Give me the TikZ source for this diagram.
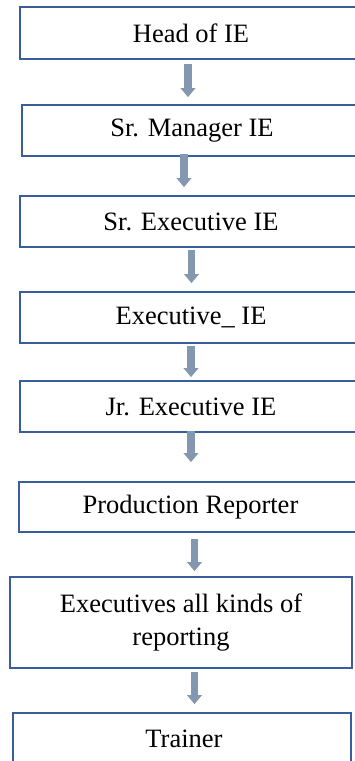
\documentclass[tikz,border=0pt]{standalone}
\usepackage{fontspec}
\setmainfont{Liberation Serif}
\newfontfamily\boxfont{Liberation Serif}
\usetikzlibrary{arrows.meta}
\definecolor{boxblue}{HTML}{3A5E9C}
\definecolor{arrowc}{HTML}{8497B0}
\begin{document}
\begin{tikzpicture}[x=1pt,y=1pt,
  orgbox/.style={draw=boxblue, line width=1.8pt, fill=white, rectangle, inner sep=0pt,
    align=center, font=\boxfont\fontsize{26.5}{33}\selectfont, text=black},
  flowarrow/.style={draw=arrowc, line width=7.5pt, -{Triangle[width=14.5pt,length=9pt]}}]
\useasboundingbox (0,0) rectangle (355,-761);
\clip (0,0) rectangle (355,-761);
\node[orgbox, minimum width=342pt, minimum height=52pt] (n1) at (191,-33) {Head of IE};
\node[orgbox, minimum width=340pt, minimum height=51pt] (n2) at (192,-130.5) {Sr. Manager IE};
\node[orgbox, minimum width=342pt, minimum height=51pt] (n3) at (191,-221.5) {Sr. Executive IE};
\node[orgbox, minimum width=342pt, minimum height=51pt] (n4) at (191,-317.5) {Executive\_ IE};
\node[orgbox, minimum width=342pt, minimum height=51pt] (n5) at (191,-406.5) {Jr. Executive IE};
\node[orgbox, minimum width=343pt, minimum height=50pt] (n6) at (190.5,-507) {Production Reporter};
\node[orgbox, minimum width=342pt, minimum height=91pt] (n7) at (181,-622.5) {Executives all kinds of\\reporting};
\node[orgbox, minimum width=338pt, minimum height=52pt] (n8) at (182,-739) {\hspace*{4pt}Trainer};
\draw[flowarrow] ([xshift=-3pt,yshift=-4pt]n1.south) -- ([xshift=-4pt,yshift=7pt]n2.north);
\draw[flowarrow] ([xshift=-8pt,yshift=3pt]n2.south) -- ([xshift=-7pt,yshift=8pt]n3.north);
\draw[flowarrow] ([xshift=0.5pt,yshift=-2pt]n3.south) -- ([xshift=0.5pt,yshift=8pt]n4.north);
\draw[flowarrow] ([yshift=-2pt]n4.south) -- ([yshift=3pt]n5.north);
\draw[flowarrow] ([yshift=2pt]n5.south) -- ([xshift=0.5pt,yshift=19pt]n6.north);
\draw[flowarrow] ([xshift=4pt,yshift=-6pt]n6.south) -- ([xshift=13.5pt,yshift=5pt]n7.north);
\draw[flowarrow] ([xshift=13.5pt,yshift=-3pt]n7.south) -- ([xshift=12.5pt,yshift=8pt]n8.north);
\end{tikzpicture}
\end{document}
